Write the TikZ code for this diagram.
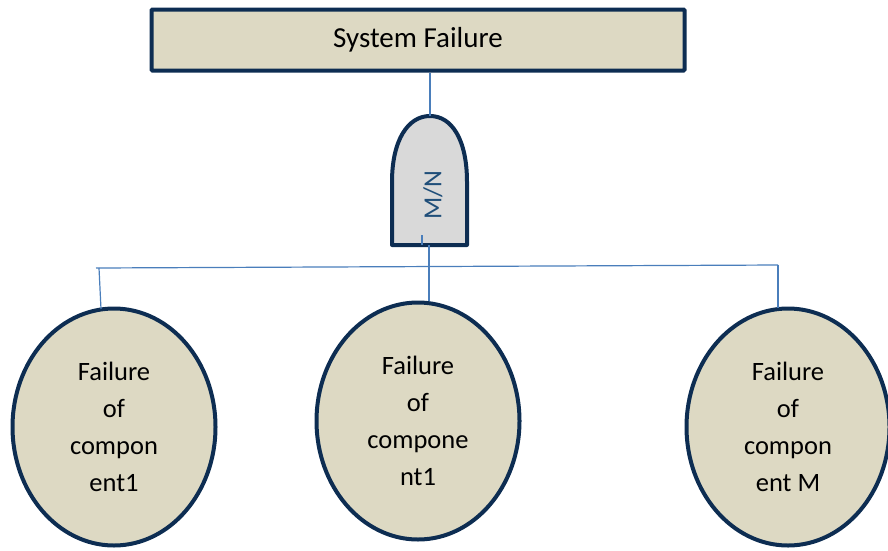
\documentclass[tikz,border=0pt]{standalone}
\usepackage{fontspec}
\setmainfont{Carlito}
\usetikzlibrary{shapes.geometric}
\definecolor{tanfill}{HTML}{DDD9C3}
\definecolor{navyline}{HTML}{0D2D52}
\definecolor{gatefill}{HTML}{D9D9D9}
\definecolor{wireblue}{HTML}{4A7EBB}
\definecolor{gatetext}{HTML}{1F4E79}
\tikzset{
  eventbox/.style={draw=navyline, fill=tanfill, line width=4pt, rounded corners=1pt,
    minimum width=533pt, minimum height=61pt, inner sep=0pt,
    font=\fontsize{29}{34}\selectfont},
  basicevent/.style={ellipse, draw=navyline, fill=tanfill, line width=4pt,
    minimum width=203pt, minimum height=237pt, inner sep=0pt, align=center,
    font=\fontsize{26.5}{37}\selectfont},
  wire/.style={draw=wireblue, line width=1.2pt},
  gateshape/.style={draw=navyline, fill=gatefill, line width=4pt, line join=round}
}
\begin{document}
\begin{tikzpicture}[x=1pt, y=-1pt]
  \useasboundingbox (0,0) rectangle (888,550);

  % top event
  \node[eventbox] (sys) at (418,40) {System Failure};

  % M-out-of-N voting gate
  \coordinate (gtop) at (430,116);
  \coordinate (gbot) at (429,245);
  \path[gateshape] (392,245) -- (392,182)
    .. controls (392,140) and (408,116) .. (gtop)
    .. controls (452,116) and (467,140) .. (467,182)
    -- (467,245) -- cycle;
  \node[text=gatetext, rotate=90, font=\fontsize{26}{30}\selectfont] (mn) at (433,195) {M/N};
  \coordinate (tickA) at (422,235);
  \coordinate (tickB) at (422,245);
  \draw[wire] (tickA) -- (tickB);

  % basic events
  \node[basicevent] (c1) at (114,427) {Failure\\of\\compon\\ent1};
  \node[basicevent] (c2) at (418,421) {Failure\\of\\compone\\nt1};
  \node[basicevent] (c3) at (788,427) {Failure\\of\\compon\\ent M};

  % connectors
  \coordinate (busL) at (96,268);
  \coordinate (busR) at (778,265);
  \coordinate (dropL) at (99,268);
  \draw[wire] (sys.south -| gtop) -- (gtop);
  \draw[wire] (gbot) -- (c2.north -| gbot);
  \draw[wire] (busL) -- (busR);
  \draw[wire] (dropL) -- (101,309);
  \draw[wire] (busR) -- (778,308);
\end{tikzpicture}
\end{document}
